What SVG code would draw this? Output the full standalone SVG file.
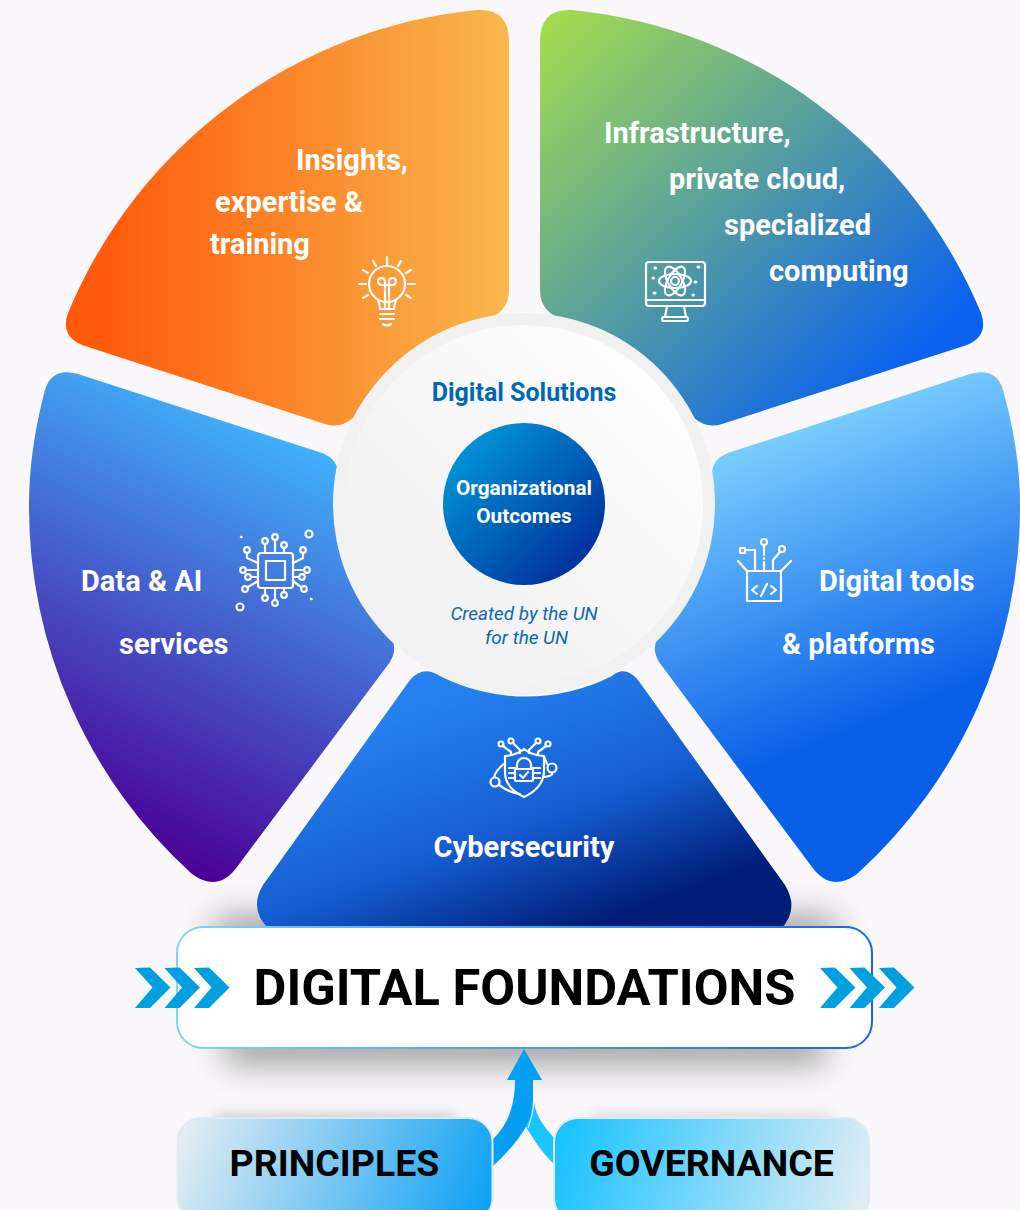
<svg xmlns="http://www.w3.org/2000/svg" width="1020" height="1210" viewBox="0 0 1020 1210">
<style>
.seg{font:700 29px Roboto,"Liberation Sans",sans-serif;fill:#fff}
.ic{fill:none;stroke:#fff;stroke-width:2.200;stroke-linecap:round;stroke-linejoin:round}
.big{font:700 37.500px Roboto,"Liberation Sans",sans-serif;fill:#000;text-anchor:middle}
.it{font:italic 400 18.900px Roboto,"Liberation Sans",sans-serif;fill:#0b69ae;text-anchor:middle}
.org{font:700 20.800px Roboto,"Liberation Sans",sans-serif;fill:#fff;text-anchor:middle}
.chev{fill:#009fdf}
</style>
<defs>
<linearGradient id="gO" gradientUnits="userSpaceOnUse" x1="100" y1="0" x2="510" y2="0"><stop offset="0" stop-color="#ff5a0a"/><stop offset="1" stop-color="#f8b84e"/></linearGradient>
<linearGradient id="gI" gradientUnits="userSpaceOnUse" x1="560" y1="10" x2="900" y2="370"><stop offset="0" stop-color="#a4dc4f"/><stop offset="1" stop-color="#0a62ee"/></linearGradient>
<linearGradient id="gD" gradientUnits="userSpaceOnUse" x1="345" y1="450" x2="150" y2="850"><stop offset="0" stop-color="#40b6ff"/><stop offset="1" stop-color="#4a0096"/></linearGradient>
<linearGradient id="gT" gradientUnits="userSpaceOnUse" x1="760" y1="420" x2="880" y2="720"><stop offset="0" stop-color="#80d5ff"/><stop offset="1" stop-color="#0a5fe8"/></linearGradient>
<linearGradient id="gC" gradientUnits="userSpaceOnUse" x1="480" y1="685" x2="570" y2="932"><stop offset="0" stop-color="#2580f0"/><stop offset="0.550" stop-color="#155ed2"/><stop offset="1" stop-color="#001e78"/></linearGradient>
<linearGradient id="gR" x1="0" y1="1" x2="1" y2="0"><stop offset="0" stop-color="#eeeeee"/><stop offset="1" stop-color="#ffffff"/></linearGradient>
<linearGradient id="gM" x1="0.1" y1="0.1" x2="0.9" y2="0.9"><stop offset="0" stop-color="#0097da"/><stop offset="1" stop-color="#002c98"/></linearGradient>
<linearGradient id="gB" x1="0" y1="0" x2="1" y2="0"><stop offset="0" stop-color="#7fd6fb"/><stop offset="1" stop-color="#1765e6"/></linearGradient>
<linearGradient id="gP" gradientUnits="userSpaceOnUse" x1="180" y1="1120" x2="480" y2="1240"><stop offset="0" stop-color="#e8eef2"/><stop offset="1" stop-color="#0aa0f4"/></linearGradient>
<linearGradient id="gG" gradientUnits="userSpaceOnUse" x1="570" y1="1120" x2="870" y2="1210"><stop offset="0" stop-color="#1cc3ff"/><stop offset="1" stop-color="#e4eef3"/></linearGradient>
<filter id="b" filterUnits="userSpaceOnUse" x="0" y="800" width="1020" height="410"><feGaussianBlur stdDeviation="17"/></filter>
<filter id="b2" filterUnits="userSpaceOnUse" x="0" y="1060" width="1020" height="150"><feGaussianBlur stdDeviation="7"/></filter>
<polygon id="ch" points="135,968 150,967.500 170.500,987.500 150,1008 135,1008 152.500,987.500"/>
</defs>
<rect width="1020" height="1210" fill="#f9f7f9"/>
<g id="shadows"><rect x="215" y="918" width="620" height="30" fill="#000" opacity=".42" filter="url(#b)"/><rect x="225" y="1032" width="600" height="30" fill="#000" opacity=".42" filter="url(#b)"/><rect x="215" y="1116" width="240" height="10" fill="#000" opacity=".25" filter="url(#b2)"/><rect x="590" y="1116" width="240" height="10" fill="#000" opacity=".18" filter="url(#b2)"/></g>
<g id="segment-insights"><path d="M509 42 Q509 8 477 10 A495 495 0 0 0 68 313 Q60 336 82 345 L325 424 Q340 429 353 418 A190 190 0 0 1 484 320 Q509 313 509 290 Z" fill="url(#gO)"/>
<text class="seg" x="296" y="170">Insights,</text><text class="seg" x="215" y="212">expertise &amp;</text><text class="seg" x="210" y="254">training</text>
<g class="ic"><circle cx="387" cy="284" r="18"/><path d="M378 300 Q380 306 380 309 L394 309 Q394 306 396 300M380 314H394M380 319H394M383 324Q387 327 391 324M385 309V282a3.500 3.500 0 1 0-4 3h12a3.500 3.500 0 1 0-4-3V309M387 257V264M373 261L376 266M401 261L398 266M363 270L368 273M411 270L406 273M359 284H366M408 284H415M363 298L368 295M411 298L406 295"/></g></g>
<g id="segment-infrastructure"><path d="M540 42 Q540 8 572 10 A495 495 0 0 1 981 313 Q989 336 967 345 L722 424 Q707 429 694 418 A190 190 0 0 0 565 320 Q540 313 540 290 Z" fill="url(#gI)"/>
<text class="seg" x="604" y="143">Infrastructure,</text><text class="seg" x="669" y="189">private cloud,</text><text class="seg" x="724" y="235">specialized</text><text class="seg" x="769" y="281">computing</text>
<g class="ic"><rect x="646" y="262" width="59" height="44" rx="3"/><path d="M646 300H705M667 306L665 317M684 306L686 317"/><rect x="662" y="317" width="26" height="4" rx="2"/><ellipse cx="675" cy="281" rx="16" ry="7"/><ellipse cx="675" cy="281" rx="16" ry="7" transform="rotate(60 675 281)"/><ellipse cx="675" cy="281" rx="16" ry="7" transform="rotate(120 675 281)"/><circle cx="675" cy="281" r="4"/><path d="M655 268h.500M653 278h.500M693 295h.500M698 267h1M695 282h1M654 293h1" stroke-width="3"/></g></g>
<g id="segment-data"><path d="M45 390 Q52 367 78 374 L322 453 Q340 460 338 478 A190 190 0 0 0 391 638 Q398 648 390 662 L237 867 Q218 893 192 874 A495 495 0 0 1 29 505 Q29 450 45 390 Z" fill="url(#gD)"/>
<text class="seg" x="81" y="591">Data &amp; AI</text><text class="seg" x="119" y="654">services</text>
<g class="ic" stroke-width="1.800"><rect x="258" y="553" width="35" height="35" rx="3"/><rect x="266" y="561" width="19" height="19"/><circle cx="265" cy="541" r="2.800"/><circle cx="275" cy="537" r="2.800"/><circle cx="284" cy="545" r="2.800"/><circle cx="265" cy="598" r="2.800"/><circle cx="275" cy="603" r="2.800"/><circle cx="284" cy="595" r="2.800"/><circle cx="247" cy="550" r="2.800"/><circle cx="243" cy="570" r="2.800"/><circle cx="248" cy="577" r="2.800"/><circle cx="245" cy="589" r="2.800"/><circle cx="303" cy="550" r="2.800"/><circle cx="307" cy="570" r="2.800"/><circle cx="302" cy="577" r="2.800"/><circle cx="304" cy="589" r="2.800"/><path d="M265 544V553M275 540V553M284 548V553M265 595V588M275 600V588M284 592V588M247 553V558L258 563M246 570H258M251 577H258M248 587L258 581M303 553V558L293 563M304 570H293M299 577H293M301 587L293 581"/><circle cx="309" cy="534" r="3.500"/><circle cx="240" cy="607" r="3.500"/><path d="M241 537h.500M311 599h.500" stroke-width="2.500"/></g></g>
<g id="segment-tools"><path d="M1003 390 Q996 367 970 374 L728 453 Q710 460 712 478 A190 190 0 0 1 658 638 Q651 648 659 662 L812 867 Q831 893 857 874 A495 495 0 0 0 1020 505 Q1020 450 1003 390 Z" fill="url(#gT)"/>
<text class="seg" x="819" y="591">Digital tools</text><text class="seg" x="782" y="654">&amp; platforms</text>
<g class="ic"><path d="M747 571H781V601H747ZM747 571L738 561M781 571L791 561M757 586L752 590L757 594M771 586L776 590L771 594M767 584L761 596"/><rect x="740" y="548" width="5" height="5"/><path d="M745 550H755V571M764 545V555M764 558V559M764 562V571"/><circle cx="764" cy="542" r="3"/><circle cx="782" cy="549" r="3"/><path d="M780 552L773 560V571"/></g></g>
<g id="segment-cyber"><path d="M410 680 Q423 665 440 676 A190 190 0 0 0 612 676 Q625 665 638 680 L785 885 Q800 910 780 930 H270 Q248 910 263 885 Z" fill="url(#gC)"/>
<text class="seg" x="524" y="857" text-anchor="middle">Cybersecurity</text>
<g class="ic" stroke-width="1.800"><path d="M505 756Q517 755 524 749Q531 755 544 756V772Q543 788 524 797Q505 788 505 772Z"/><path d="M517 769V765a7 7 0 0 1 14 0V769"/><rect x="515" y="769" width="18" height="12" rx="1"/><path d="M520 775L523 778L528 772M509 768H515M509 773H515M509 778H515M533 768H540M533 773H540M533 778H540"/><circle cx="501" cy="744" r="2.500"/><circle cx="511" cy="741" r="2.500"/><circle cx="538" cy="741" r="2.500"/><circle cx="548" cy="744" r="2.500"/><path d="M503 746L511 752V755M513 743L520 750V753M536 743L529 750V753M546 746L538 752V755"/><circle cx="495" cy="782" r="4.500"/><circle cx="552" cy="768" r="4.500"/><path d="M505 763Q496 770 494 777M544 777Q553 776 552 773M499 785Q510 793 520 794M547 764Q545 758 544 757"/></g></g>
<g id="center"><circle cx="524" cy="504" r="191" fill="#f1f1f2"/><circle cx="524" cy="504" r="179" fill="url(#gR)"/>
<text x="524" y="401" text-anchor="middle" style="font:700 25px Roboto,'Liberation Sans',sans-serif;fill:#0068b3">Digital Solutions</text>
<circle cx="524" cy="504" r="81" fill="url(#gM)"/>
<text class="org" x="524" y="495">Organizational</text><text class="org" x="524" y="523">Outcomes</text>
<text class="it" x="524" y="620">Created by the UN</text><text class="it" x="526.500" y="644">for the UN</text></g>
<g id="foundations"><rect x="177" y="927" width="695" height="121" rx="26" fill="#fff" stroke="url(#gB)" stroke-width="2"/>
<text x="524.500" y="1005" text-anchor="middle" style="font:700 50.600px Roboto,'Liberation Sans',sans-serif;fill:#000">DIGITAL FOUNDATIONS</text>
<g class="chev"><use href="#ch"/><use href="#ch" x="29.500"/><use href="#ch" x="59"/><use href="#ch" x="685"/><use href="#ch" x="714.500"/><use href="#ch" x="744"/></g></g>
<g id="connectors"><path d="M534 1102C536 1118 546 1128 554 1138V1164C543 1154 534 1140 526 1127Z" fill="#1cc4ff"/><path d="M524 1049L542 1080H533V1100C533 1125 515 1145 493 1166V1139C508 1125 515 1105 515 1080H507Z" fill="#049ff1"/><path d="M528 1128Q533 1115 534 1102" fill="none" stroke="#f9f7f9" stroke-width="1"/></g>
<g id="principles"><rect x="177.500" y="1118" width="315" height="104" rx="24" fill="url(#gP)" stroke="#dcebf3" stroke-width="2"/><text class="big" x="334.500" y="1176">PRINCIPLES</text></g>
<g id="governance"><rect x="554" y="1118" width="315" height="104" rx="24" fill="url(#gG)" stroke="#dcebf3" stroke-width="2"/><text class="big" x="711.500" y="1176">GOVERNANCE</text></g>
</svg>
